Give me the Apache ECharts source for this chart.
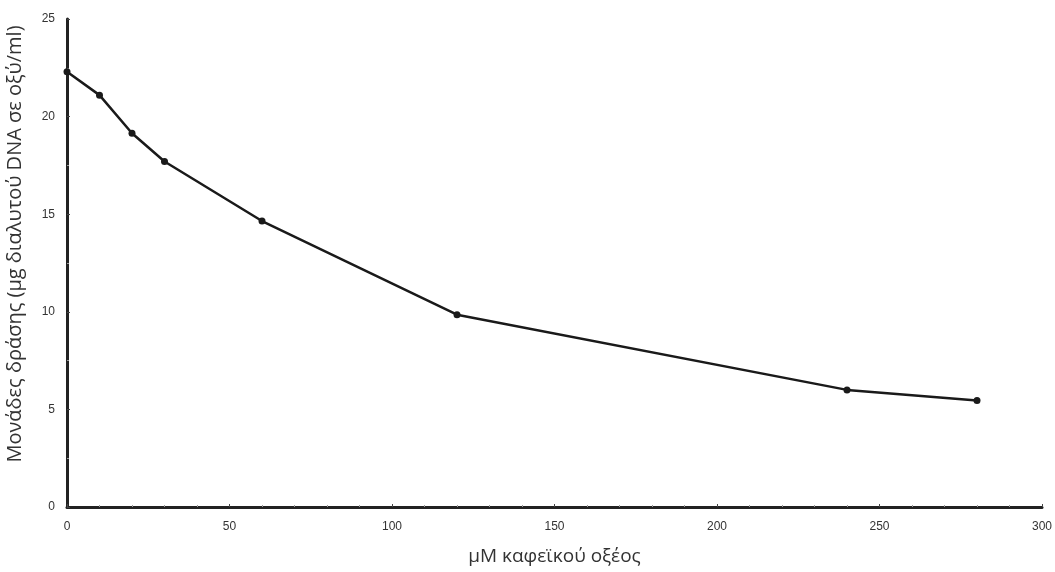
<!DOCTYPE html>
<html><head><meta charset="utf-8">
<script src="https://cdn.jsdelivr.net/npm/echarts@6/dist/echarts.min.js"></script>
<style>html,body{margin:0;padding:0;background:#fff}#c{width:1055px;height:572px}</style>
</head><body><div id="c"></div>
<script>
const concentrations = [0, 10, 20, 30, 60, 120, 240, 280];
const activityUnits = [22.3, 21.1, 19.15, 17.7, 14.65, 9.85, 6.0, 5.45];
const xTitle = 'μM καφεϊκού οξέος';
const yTitle = 'Μονάδες δράσης (μg διαλυτού DNA σε οξύ/ml)';

const chart = echarts.init(document.getElementById('c'));
chart.setOption({
  backgroundColor: '#fff',
  animation: false,
  graphic: [{
    type: 'text', x: 15, y: 244, rotation: Math.PI / 2,
    style: {text: yTitle, align: 'center', verticalAlign: 'middle',
      fontFamily: 'Open Sans', fontSize: 20, fill: '#333'}
  }],
  grid: {left: 67, right: 13, top: 19, bottom: 65, outerBoundsMode: 'none', containLabel: false},
  xAxis: {
    type: 'value', min: 0, max: 300, interval: 50,
    name: xTitle, nameLocation: 'middle', nameGap: 40,
    nameTextStyle: {fontFamily: 'Open Sans', fontSize: 19, color: '#333'},
    axisLine: {lineStyle: {color: '#222', width: 3}},
    axisTick: {inside: true, length: 3, lineStyle: {color: '#444'}},
    minorTick: {show: true, splitNumber: 5, length: 2, lineStyle: {color: '#999'}},
    splitLine: {show: false},
    axisLabel: {fontFamily: 'Liberation Sans', fontSize: 12, color: '#333', margin: 14}
  },
  yAxis: {
    type: 'value', min: 0, max: 25, interval: 5,
    axisLine: {show: true, lineStyle: {color: '#222', width: 3}},
    axisTick: {show: true, inside: true, length: 3, lineStyle: {color: '#444'}},
    minorTick: {show: true, splitNumber: 2, length: 2, lineStyle: {color: '#999'}},
    splitLine: {show: false},
    axisLabel: {fontFamily: 'Liberation Sans', fontSize: 12, color: '#333', margin: 12}
  },
  series: [{
    type: 'line',
    data: concentrations.map((c, i) => [c, activityUnits[i]]),
    symbol: 'circle', symbolSize: 7,
    lineStyle: {color: '#1a1a1a', width: 2.5},
    itemStyle: {color: '#1a1a1a'}
  }]
});
</script></body></html>
